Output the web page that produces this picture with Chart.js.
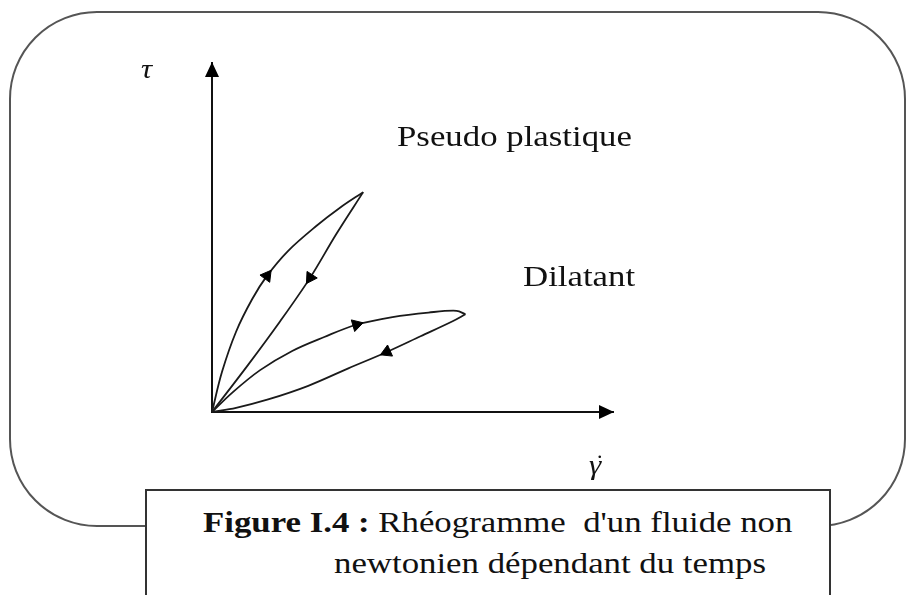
<!DOCTYPE html>
<html>
<head>
<meta charset="utf-8">
<script src="https://cdn.jsdelivr.net/npm/chart.js@4/dist/chart.umd.min.js"></script>
<style>
  html, body { margin: 0; padding: 0; background: #fff; }
  #page { position: relative; width: 908px; height: 595px; overflow: hidden; font-family: "Liberation Serif", "Times New Roman", serif; color: #111; }
  #frame { position: absolute; left: 9px; top: 11px; width: 893px; height: 512px; border: 2px solid #555; border-radius: 88px; }
  #chart { position: absolute; left: 0; top: 0; }
  .lbl { position: absolute; white-space: nowrap; line-height: 1; transform-origin: 0 0; }
  #caption { position: absolute; left: 145px; top: 489px; width: 682px; height: 130px; border: 2px solid #333; background: #fff; }
</style>
</head>
<body>
<div id="page">
  <div id="frame"></div>
  <canvas id="chart" width="908" height="595"></canvas>
  <div class="lbl" style="left:141px; top:56px; font-size:27px; font-style:italic; transform:scaleX(1.15);">τ</div>
  <div class="lbl" style="left:589px; top:452px; font-size:27px; font-style:italic; transform:scaleX(1.15);">γ</div>
  <div class="lbl" style="left:597px; top:440px; font-size:22px;">.</div>
  <div class="lbl" style="left:397px; top:122px; font-size:29px; transform:scaleX(1.2);">Pseudo plastique</div>
  <div class="lbl" style="left:523px; top:262px; font-size:29px; transform:scaleX(1.2);">Dilatant</div>
  <div id="caption"></div>
  <div class="lbl" style="left:203px; top:508px; font-size:29px; transform:scaleX(1.2);"><b>Figure I.4 :</b> Rhéogramme&nbsp; d'un fluide non</div>
  <div class="lbl" style="left:334px; top:549px; font-size:29px; transform:scaleX(1.2);">newtonien dépendant du temps</div>
</div>
<script>
/* shear rate (x) vs shear stress (y), arbitrary units */
/* pseudo plastic loop: loading curve then unloading curve */
const pseudoUpX = [0, 0.25, 0.6, 1.0, 1.37, 1.9, 2.6, 3.2, 3.77];
const pseudoUpY = [0, 1.15, 2.3, 3.23, 3.9, 4.62, 5.33, 5.86, 6.3];
const pseudoDownX = [3.77, 3.1, 2.45, 1.7, 0.9, 0];
const pseudoDownY = [6.3, 5.1, 3.85, 2.6, 1.35, 0];

/* dilatant loop */
const dilatantUpX = [0, 0.5, 1.2, 2.0, 2.8, 3.6, 4.5, 5.4, 6.1, 6.32];
const dilatantUpY = [0, 0.55, 1.2, 1.75, 2.15, 2.5, 2.72, 2.85, 2.9, 2.8];
const dilatantDownX = [6.32, 6.0, 5.2, 4.36, 3.4, 2.4, 1.4, 0.6, 0];
const dilatantDownY = [2.8, 2.6, 2.17, 1.72, 1.25, 0.75, 0.36, 0.12, 0];

/* index of the point carrying the direction arrow on each curve */
const pseudoUpArrow = 4;
const pseudoDownArrow = 2;
const dilatantUpArrow = 5;
const dilatantDownArrow = 3;

const axisMin = 0;
const axisMax = 10;

const toPoints = (xs, ys) => xs.map((x, i) => ({ x: x, y: ys[i] }));

/* direction of the curve at a point, in pixels, for the arrow heads */
const arrowAngle = (c) => {
  const pts = c.dataset.data;
  const i = c.dataIndex;
  const a = pts[Math.max(i - 1, 0)];
  const b = pts[Math.min(i + 1, pts.length - 1)];
  const sx = c.chart.scales.x;
  const sy = c.chart.scales.y;
  const dx = sx.getPixelForValue(b.x) - sx.getPixelForValue(a.x);
  const dy = sy.getPixelForValue(b.y) - sy.getPixelForValue(a.y);
  return (Math.atan2(dy, dx) * 180) / Math.PI + 90;
};

const curve = (xs, ys, arrowIdx) => ({
  data: toPoints(xs, ys),
  showLine: true,
  borderColor: "#1a1a1a",
  borderWidth: 1.8,
  tension: 0.35,
  fill: false,
  clip: false,
  pointStyle: "triangle",
  pointRadius: (c) => (c.dataIndex === arrowIdx ? 7 : 0),
  pointRotation: arrowAngle,
  pointBackgroundColor: "#000",
  pointBorderColor: "#000",
  pointBorderWidth: 1,
});

/* arrow heads at the end of both axes */
const axisArrows = {
  id: "axisArrows",
  afterDraw(chart) {
    const { ctx, chartArea } = chart;
    const { left, right, top, bottom } = chartArea;
    ctx.save();
    ctx.fillStyle = "#000";
    ctx.beginPath();
    ctx.moveTo(right + 1, bottom);
    ctx.lineTo(right - 14, bottom - 7);
    ctx.lineTo(right - 14, bottom + 7);
    ctx.closePath();
    ctx.fill();
    ctx.beginPath();
    ctx.moveTo(left, top - 1);
    ctx.lineTo(left - 7, top + 14);
    ctx.lineTo(left + 7, top + 14);
    ctx.closePath();
    ctx.fill();
    ctx.restore();
  },
};

const axisOpts = {
  type: "linear",
  min: axisMin,
  max: axisMax,
  grid: { display: false, drawTicks: false },
  ticks: { display: false },
  border: { display: true, color: "#111", width: 2 },
};

new Chart(document.getElementById("chart"), {
  type: "scatter",
  data: {
    datasets: [
      curve(pseudoUpX, pseudoUpY, pseudoUpArrow),
      curve(pseudoDownX, pseudoDownY, pseudoDownArrow),
      curve(dilatantUpX, dilatantUpY, dilatantUpArrow),
      curve(dilatantDownX, dilatantDownY, dilatantDownArrow),
    ],
  },
  options: {
    responsive: false,
    animation: false,
    events: [],
    layout: { padding: { left: 212, top: 63, right: 295, bottom: 183 } },
    plugins: { legend: { display: false }, tooltip: { enabled: false } },
    scales: { x: axisOpts, y: axisOpts },
  },
  plugins: [axisArrows],
});
</script>
</body>
</html>
